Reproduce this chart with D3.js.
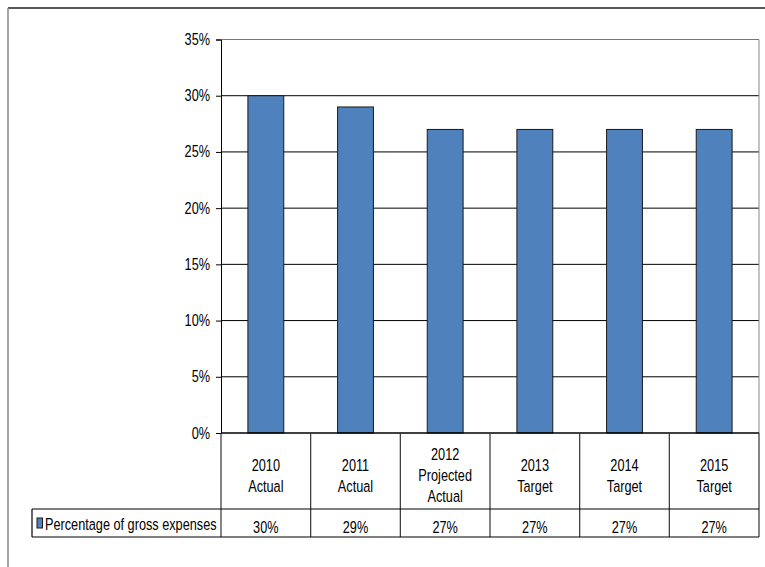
<!DOCTYPE html>
<html>
<head>
<meta charset="utf-8">
<script src="https://cdn.jsdelivr.net/npm/d3@7"></script>
<style>
  body { margin: 0; background: #fff; }
  text { font-family: "Liberation Sans", Arial, sans-serif; fill: #000; }
</style>
</head>
<body>
<div id="chart"></div>
<script>
// Chart with data table below (Excel-style, condensed Arial look)
const width = 765, height = 567;

const categories = [
  ["2010", "Actual"],
  ["2011", "Actual"],
  ["2012", "Projected", "Actual"],
  ["2013", "Target"],
  ["2014", "Target"],
  ["2015", "Target"]
];
const values = [30, 29, 27, 27, 27, 27];
const yTicks = [0, 5, 10, 15, 20, 25, 30, 35];
const seriesName = "Percentage of gross expenses";

const plot = {left: 221, right: 759, top: 39.5, bottom: 433};
const rowCat = 509, rowVal = 537, legendLeft = 32;
const fs = 16.5, squeeze = 0.77;

const svg = d3.select("#chart").append("svg")
  .attr("width", width).attr("height", height);

// narrow text: put it in a squeezed group
function label(parent, tx, ty, str, anchor) {
  return parent.append("g")
    .attr("transform", `translate(${tx},${ty}) scale(${squeeze},1)`)
    .append("text")
    .attr("text-anchor", anchor || "middle")
    .attr("font-size", fs)
    .text(str);
}

// outer frame (cut off at right / bottom)
svg.append("line").attr("x1", 8).attr("x2", width).attr("y1", 8).attr("y2", 8)
  .attr("stroke", "#222").attr("stroke-width", 1.5);
svg.append("line").attr("x1", 8).attr("x2", 8).attr("y1", 8).attr("y2", height)
  .attr("stroke", "#888").attr("stroke-width", 1.5);

const x = d3.scaleBand().domain(d3.range(categories.length))
  .range([plot.left, plot.right]).padding(0);
const y = d3.scaleLinear().domain([0, 35]).range([plot.bottom, plot.top]);

// gridlines
svg.append("g").selectAll("line")
  .data(yTicks.filter(d => d > 0))
  .join("line")
  .attr("x1", plot.left).attr("x2", plot.right)
  .attr("y1", d => y(d)).attr("y2", d => y(d))
  .attr("stroke", d => d === 35 ? "#777" : "#000")
  .attr("stroke-width", 1);

// plot right border
svg.append("line").attr("x1", plot.right).attr("x2", plot.right)
  .attr("y1", plot.top).attr("y2", plot.bottom)
  .attr("stroke", "#888");

// bars
const bw = x.bandwidth() * 0.4;
svg.append("g").selectAll("rect")
  .data(values)
  .join("rect")
  .attr("x", (d, i) => x(i) + (x.bandwidth() - bw) / 2)
  .attr("width", bw)
  .attr("y", d => y(d))
  .attr("height", d => y(0) - y(d))
  .attr("fill", "#4F81BD")
  .attr("stroke", "#1a1a1a")
  .attr("stroke-width", 1);

// y axis (labels drawn separately so they can be squeezed)
const yAxis = d3.axisLeft(y).tickValues(yTicks).tickSize(5).tickFormat("");
const ya = svg.append("g").attr("transform", `translate(${plot.left},0)`).call(yAxis);
ya.select(".domain").attr("stroke", "#000");
ya.selectAll(".tick line").attr("stroke", "#000");
const yl = svg.append("g");
yTicks.forEach(t => label(yl, 210, y(t) + 5.5, t + "%", "end"));

// x axis line (top of table)
svg.append("line").attr("x1", plot.left).attr("x2", plot.right)
  .attr("y1", plot.bottom).attr("y2", plot.bottom)
  .attr("stroke", "#000").attr("stroke-width", 1.5);

// table: column verticals
svg.append("g").selectAll("line")
  .data(d3.range(categories.length + 1))
  .join("line")
  .attr("x1", i => i < categories.length ? x(i) : plot.right)
  .attr("x2", i => i < categories.length ? x(i) : plot.right)
  .attr("y1", plot.bottom).attr("y2", rowVal)
  .attr("stroke", "#333").attr("stroke-width", 1.2);

// table horizontals and legend cell
svg.append("line").attr("x1", legendLeft).attr("x2", plot.right)
  .attr("y1", rowCat).attr("y2", rowCat).attr("stroke", "#000").attr("stroke-width", 1.2);
svg.append("line").attr("x1", legendLeft).attr("x2", plot.right)
  .attr("y1", rowVal).attr("y2", rowVal).attr("stroke", "#000").attr("stroke-width", 1.2);
svg.append("line").attr("x1", legendLeft).attr("x2", legendLeft)
  .attr("y1", rowCat).attr("y2", rowVal).attr("stroke", "#000").attr("stroke-width", 1.2);

// category labels
const lineH = 21;
const cl = svg.append("g");
categories.forEach((lines, i) => {
  const cx = x(i) + x.bandwidth() / 2;
  const y0 = 475 - (lines.length - 1) * lineH / 2;
  lines.forEach((s, j) => label(cl, cx, y0 + j * lineH + 6, s));
});

// value row
const vl = svg.append("g");
values.forEach((v, i) => label(vl, x(i) + x.bandwidth() / 2, 533, v + "%"));

// legend key in the table
svg.append("rect").attr("x", 37).attr("y", 518).attr("width", 5.5).attr("height", 10)
  .attr("fill", "#4F81BD").attr("stroke", "#1a1a1a").attr("stroke-width", 1);
label(svg, 45, 529.5, seriesName, "start");
</script>
</body>
</html>
